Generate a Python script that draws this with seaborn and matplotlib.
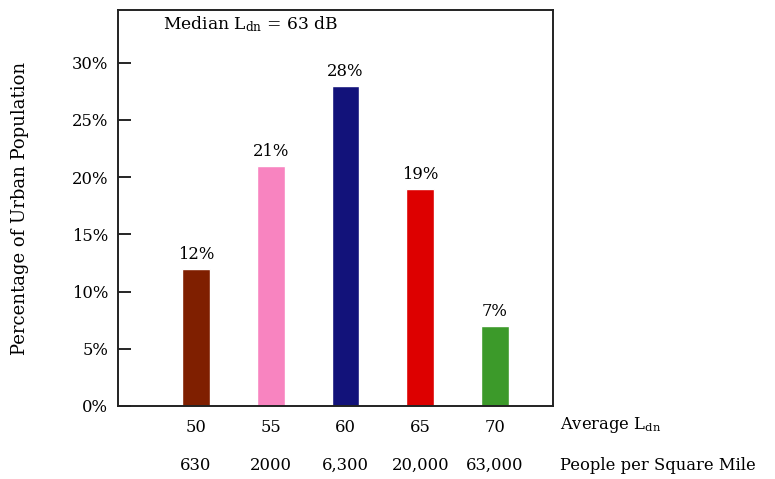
import matplotlib
matplotlib.use("Agg")
import matplotlib.pyplot as plt
import matplotlib.transforms as mtransforms
import pandas as pd
import seaborn as sns

# data
avg_ldn = ["50", "55", "60", "65", "70"]
people_per_sq_mile = ["630", "2000", "6,300", "20,000", "63,000"]
pct_urban = [12, 21, 28, 19, 7]
bar_colors = ["#7f1f00", "#f884c0", "#12127a", "#dd0000", "#3c9a2a"]

df = pd.DataFrame({"ldn": avg_ldn, "pct": pct_urban})

sns.set_theme(style="white")
plt.rcParams["font.family"] = ["DejaVu Serif"]
plt.rcParams["mathtext.fontset"] = "dejavuserif"
plt.rcParams["text.color"] = "black"
plt.rcParams["axes.labelcolor"] = "black"
plt.rcParams["xtick.color"] = "black"
plt.rcParams["ytick.color"] = "black"

FS = 11.8

fig = plt.figure(figsize=(7.75, 4.79), dpi=100)
ax = fig.add_axes([118 / 775, 1 - 406 / 479, (553 - 118) / 775, (406 - 10) / 479])

sns.barplot(data=df, x="ldn", y="pct", hue="ldn", palette=bar_colors,
            width=0.37, legend=False, saturation=1, ax=ax)

ax.set_xlim(-1.043, 4.776)
ax.set_ylim(0, 34.6)
ax.set_yticks([0, 5, 10, 15, 20, 25, 30])
ax.set_yticklabels([f"{v}%" for v in [0, 5, 10, 15, 20, 25, 30]], fontsize=FS)
ax.tick_params(axis="y", direction="in", length=9, width=1.2, left=True, pad=7)
ax.tick_params(axis="x", length=0, pad=9, labelsize=FS)
ax.set_xlabel("")
ax.set_ylabel("Percentage of Urban Population", fontsize=13, labelpad=31)

for spine in ax.spines.values():
    spine.set_visible(True)
    spine.set_color("#222222")
    spine.set_linewidth(1.4)

# value labels
for i, v in enumerate(pct_urban):
    ax.text(i, v + 0.5, f"{v}%", ha="center", va="bottom", fontsize=FS)

# second row of x labels
trans = mtransforms.blended_transform_factory(ax.transData, ax.transAxes)
for i, lab in enumerate(people_per_sq_mile):
    ax.text(i, -0.151, lab, ha="center", va="center", fontsize=FS,
            transform=trans, clip_on=False)

ax.text(1.016, -0.048, r"Average L$_\mathrm{dn}$", ha="left", va="center",
        fontsize=FS, transform=ax.transAxes, clip_on=False)
ax.text(1.016, -0.151, "People per Square Mile", ha="left", va="center",
        fontsize=FS, transform=ax.transAxes, clip_on=False)

ax.text(0.103, 0.965, r"Median L$_\mathrm{dn}$ = 63 dB", ha="left", va="center",
        fontsize=FS + 0.5, transform=ax.transAxes)

fig.savefig("out.png", dpi=100)
